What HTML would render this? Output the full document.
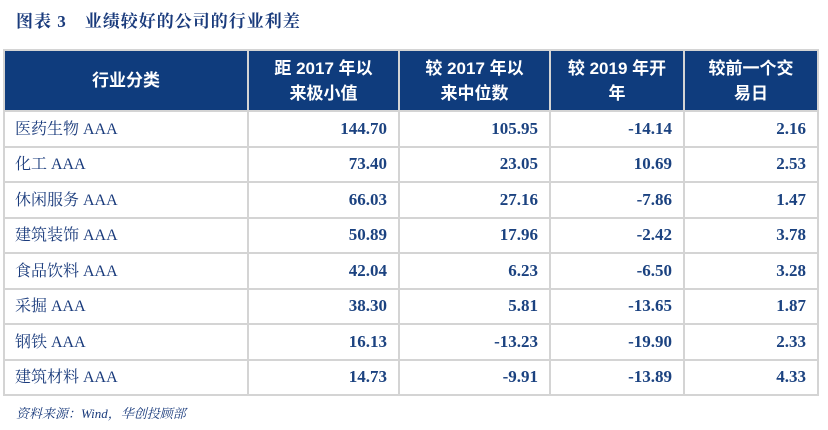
<!DOCTYPE html>
<html><head><meta charset="utf-8"><style>
body{margin:0;width:828px;height:430px;background:#fff;overflow:hidden;font-family:"Liberation Serif","Noto Serif CJK SC",serif;}
#title{position:absolute;left:16px;top:7px;font-size:17px;font-weight:bold;color:#1a3b7c;letter-spacing:1px;white-space:nowrap}
table{position:absolute;left:3px;top:49px;border-collapse:collapse;table-layout:fixed}
td,th{border:2px solid #d4d4d4;padding:0;}
th{background:#0f3c7d;color:#fff;font-family:"Liberation Sans","Noto Sans CJK SC",sans-serif;font-size:17px;font-weight:bold;line-height:25px;height:59px;text-align:center}
td{height:33.5px;font-size:16px;line-height:20px;color:#1a3b7c;vertical-align:middle;overflow:hidden}
td.n{text-align:right;padding-right:11px;font-weight:bold;font-size:17px;color:#1b4280}
td.c{padding-left:10px}
td.c span{position:relative;top:1px}
#src{position:absolute;left:16px;top:403px;font-size:13px;font-style:italic;color:#1a3b7c}
</style></head><body>
<div id="title">图表 3　业绩较好的公司的行业利差</div>
<table>
<colgroup><col style="width:244px"><col style="width:151px"><col style="width:151px"><col style="width:134px"><col style="width:134px"></colgroup>
<tr>
<th>行业分类</th>
<th>距 2017 年以<br>来极小值</th>
<th>较 2017 年以<br>来中位数</th>
<th>较 2019 年开<br>年</th>
<th>较前一个交<br>易日</th>
</tr>
<tr><td class="c"><span>医药生物 AAA</span></td><td class="n">144.70</td><td class="n">105.95</td><td class="n">-14.14</td><td class="n">2.16</td></tr>
<tr><td class="c"><span>化工 AAA</span></td><td class="n">73.40</td><td class="n">23.05</td><td class="n">10.69</td><td class="n">2.53</td></tr>
<tr><td class="c"><span>休闲服务 AAA</span></td><td class="n">66.03</td><td class="n">27.16</td><td class="n">-7.86</td><td class="n">1.47</td></tr>
<tr><td class="c"><span>建筑装饰 AAA</span></td><td class="n">50.89</td><td class="n">17.96</td><td class="n">-2.42</td><td class="n">3.78</td></tr>
<tr><td class="c"><span>食品饮料 AAA</span></td><td class="n">42.04</td><td class="n">6.23</td><td class="n">-6.50</td><td class="n">3.28</td></tr>
<tr><td class="c"><span>采掘 AAA</span></td><td class="n">38.30</td><td class="n">5.81</td><td class="n">-13.65</td><td class="n">1.87</td></tr>
<tr><td class="c"><span>钢铁 AAA</span></td><td class="n">16.13</td><td class="n">-13.23</td><td class="n">-19.90</td><td class="n">2.33</td></tr>
<tr><td class="c"><span>建筑材料 AAA</span></td><td class="n">14.73</td><td class="n">-9.91</td><td class="n">-13.89</td><td class="n">4.33</td></tr>
</table>
<div id="src">资料来源：Wind，华创投顾部</div>
</body></html>
